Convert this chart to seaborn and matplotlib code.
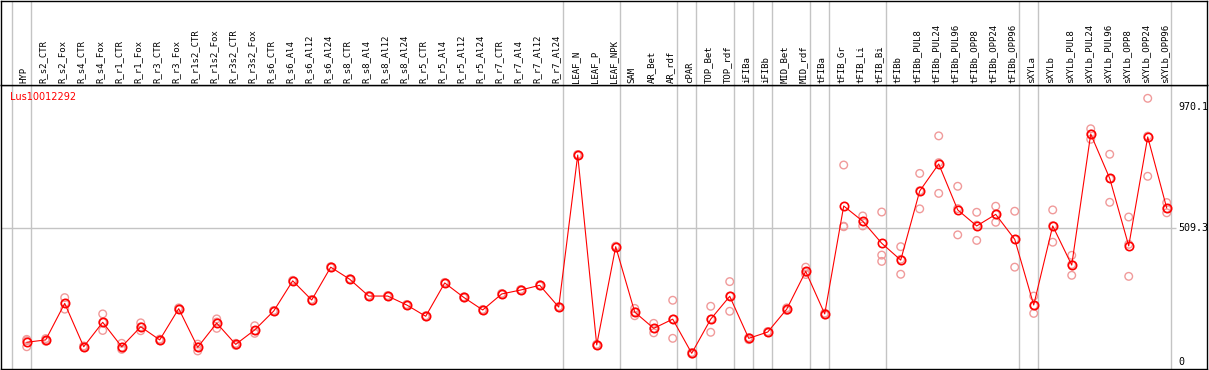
import numpy as np
import pandas as pd
import seaborn as sns
import matplotlib
matplotlib.use("Agg")
import matplotlib.pyplot as plt

categories = ["HYP", "R_s2_CTR", "R_s2_Fox", "R_s4_CTR", "R_s4_Fox", "R_r1_CTR", "R_r1_Fox",
              "R_r3_CTR", "R_r3_Fox", "R_r1s2_CTR", "R_r1s2_Fox", "R_r3s2_CTR", "R_r3s2_Fox",
              "R_s6_CTR", "R_s6_Al4", "R_s6_Al12", "R_s6_Al24", "R_s8_CTR", "R_s8_Al4",
              "R_s8_Al12", "R_s8_Al24", "R_r5_CTR", "R_r5_Al4", "R_r5_Al12", "R_r5_Al24",
              "R_r7_CTR", "R_r7_Al4", "R_r7_Al12", "R_r7_Al24", "LEAF_N", "LEAF_P", "LEAF_NPK",
              "SAM", "AR_Bet", "AR_rdf", "cPAR", "TOP_Bet", "TOP_rdf", "iFIBa", "iFIBb",
              "MID_Bet", "MID_rdf", "tFIBa", "tFIB_Gr", "tFIB_Li", "tFIB_Bi", "tFIBb",
              "tFIBb_PUL8", "tFIBb_PUL24", "tFIBb_PUL96", "tFIBb_OPP8", "tFIBb_OPP24",
              "tFIBb_OPP96", "sXYLa", "sXYLb", "sXYLb_PUL8", "sXYLb_PUL24", "sXYLb_PUL96",
              "sXYLb_OPP8", "sXYLb_OPP24", "sXYLb_OPP96"]

mean_vals = [74, 83, 222, 57, 150, 57, 133, 83, 202, 55, 147, 66, 121, 193, 308, 235, 360,
             314, 250, 250, 216, 173, 300, 245, 197, 258, 273, 291, 208, 787, 64, 438,
             189, 127, 162, 32, 162, 249, 89, 113, 200, 344, 182, 593, 535, 451, 387,
             650, 753, 578, 517, 561, 466, 216, 517, 368, 867, 698, 441, 856, 585]

rep1 = [85, 88, 244, 60, 182, 70, 148, 86, 205, 67, 163, 70, 137, 195, 310, 237, 362,
        316, 252, 252, 218, 175, 302, 247, 199, 260, 275, 293, 210, 789, 66, 440,
        203, 146, 234, 35, 211, 305, 92, 115, 205, 360, 185, 749, 555, 570, 438,
        717, 860, 668, 569, 592, 573, 250, 578, 405, 887, 790, 551, 1003, 606]
rep2 = [80, 82, 222, 57, 150, 55, 133, 83, 202, 57, 151, 66, 118, 193, 308, 235, 360,
        314, 250, 250, 216, 173, 300, 245, 197, 258, 273, 291, 208, 787, 64, 438,
        190, 126, 162, 32, 162, 250, 89, 113, 199, 340, 181, 516, 533, 406, 390,
        651, 758, 583, 520, 561, 466, 214, 518, 370, 867, 697, 447, 859, 583]
rep3 = [57, 78, 200, 54, 119, 47, 118, 80, 199, 41, 127, 62, 108, 191, 306, 233, 358,
        312, 248, 248, 214, 171, 298, 243, 195, 256, 271, 289, 206, 785, 62, 436,
        175, 110, 89, 29, 112, 192, 84, 111, 195, 332, 178, 514, 517, 382, 333,
        582, 641, 483, 462, 531, 360, 184, 455, 329, 847, 607, 325, 706, 567]

group_breaks = [-1, 0, 28, 31, 34, 35, 37, 38, 39, 41, 42, 45, 52, 53, 60]
axis_labels = [970.1, 509.3, 0]

idx = np.arange(len(categories))
main_df = pd.DataFrame({"idx": idx, "value": mean_vals})
rep_df = pd.DataFrame({"idx": np.tile(idx, 3), "value": rep1 + rep2 + rep3})

sns.set_style("white")

W, H = 1209, 370
fig = plt.figure(figsize=(W / 100, H / 100), dpi=100)

xlo, xhi = -1.353, 62.12
ylo, yhi = -27.8, 1053.7

ax = fig.add_axes([1 / W, 1 / H, 1206 / W, 284 / H])
hdr = fig.add_axes([1 / W, 285 / H, 1206 / W, 84.5 / H])

sep_color = "#c4c4c4"
for a in (ax, hdr):
    a.set_xlim(xlo, xhi)
    for b in group_breaks:
        a.axvline(b + 0.22, color=sep_color, lw=1, zorder=0)
    a.set_xticks([])
    a.set_yticks([])
    for s in a.spines.values():
        s.set_color("black")
        s.set_linewidth(1)

ax.set_ylim(ylo, yhi)
ax.hlines(509.3, xlo, 60.5, color=sep_color, lw=1, zorder=0)

sns.scatterplot(data=rep_df, x="idx", y="value", ax=ax, marker="o", s=30,
                facecolors="none", edgecolor="#f09a9a", linewidth=1.0, zorder=2, legend=False)
sns.lineplot(data=main_df, x="idx", y="value", ax=ax, color="red", lw=0.8,
             marker="o", markersize=6, markerfacecolor="none", markeredgecolor="red",
             markeredgewidth=1.2, zorder=3, legend=False)
ax.set_xlabel("")
ax.set_ylabel("")
ax.set_xlim(xlo, xhi)
ax.set_ylim(ylo, yhi)

for v in axis_labels:
    ax.text(60.6, v, f"{v:g}", ha="left", va="center", fontsize=7.2,
            family="DejaVu Sans Mono", color="black")

ax.text(-0.88, 1008, "Lus10012292", ha="left", va="center", fontsize=7, color="red",
        family="DejaVu Sans")

hdr.set_ylim(0, 1)
for i, c in enumerate(categories):
    hdr.text(i - 0.13, 0.025, c, rotation=90, ha="center", va="bottom", fontsize=6.5,
             family="DejaVu Sans Mono", color="black")

fig.savefig("out.png", dpi=100)
